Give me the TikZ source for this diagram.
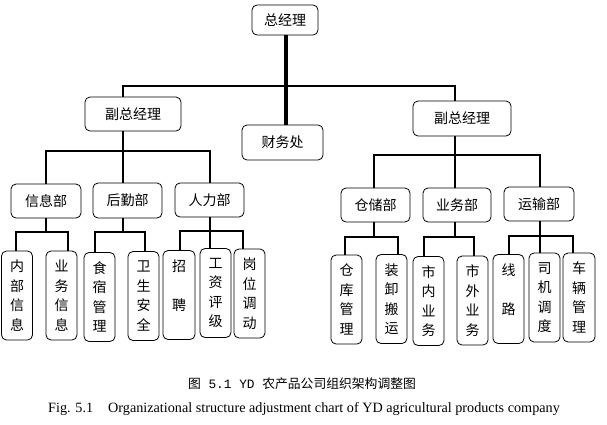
\documentclass[tikz,border=0pt]{standalone}
\usepackage{fontspec}
\setmainfont{Liberation Serif}
\newfontfamily\cjk{Noto Sans CJK SC}
\newfontfamily\monof{Liberation Mono}
\begin{document}
\begin{tikzpicture}[x=1pt,y=-1pt,
  box/.style={draw, line width=0.8pt, rounded corners=5pt, inner sep=0pt,
    font=\cjk\fontsize{14}{19.5}\selectfont, align=center},
  hb/.style={box, minimum width=#1, minimum height=34pt},
  vbox/.style={box, minimum width=31pt, minimum height=89pt},
  conn/.style={line width=2.6pt},
  main/.style={line width=3.5pt}]
\useasboundingbox (0,0) rectangle (607,424);
% level 1-2
\node[box, minimum width=66pt, minimum height=30pt] (zjl) at (285,20) {总经理};
\node[hb=96pt] (fz1) at (133,114) {副总经理};
\node[hb=81pt, minimum height=35pt] (cwc) at (282.5,142.5) {财务处};
\node[hb=98pt, minimum height=35pt] (fz2) at (462,118.5) {副总经理};
% level 3
\node[hb=70pt] (xxb) at (46,201) {信息部};
\node[hb=69pt, minimum height=35pt] (hqb) at (127.5,200.5) {后勤部};
\node[hb=69pt] (rlb) at (209.5,200) {人力部};
\node[hb=69pt] (ccb) at (375.5,205) {仓储部};
\node[hb=68pt] (ywb) at (457,205) {业务部};
\node[hb=70pt] (ysb) at (539,204) {运输部};
% level 4
\node[vbox] (nbxx) at (17,295.5) {内\\部\\信\\息};
\node[vbox] (ywxx) at (61.5,295.5) {业\\务\\信\\息};
\node[vbox] (ssgl) at (99.5,297) {食\\宿\\管\\理};
\node[vbox] (wsaq) at (143.5,296) {卫\\生\\安\\全};
\node[vbox, minimum width=32pt] (zp) at (179,295) {招\\ \\聘\\ };
\node[vbox] (gzpj) at (215.5,293) {工\\资\\评\\级};
\node[vbox] (gwdd) at (249.5,293.5) {岗\\位\\调\\动};
\node[vbox] (ckgl) at (346.5,299.5) {仓\\库\\管\\理};
\node[vbox] (zxby) at (391.5,299) {装\\卸\\搬\\运};
\node[vbox] (snyw) at (428.5,301) {市\\内\\业\\务};
\node[vbox] (swyw) at (472.5,300.5) {市\\外\\业\\务};
\node[vbox] (xl) at (508.5,299) {线\\ \\路\\ };
\node[vbox] (sjdd) at (544.5,297.5) {司\\机\\调\\度};
\node[vbox, minimum width=32pt] (clgl) at (579,297.5) {车\\辆\\管\\理};
% connectors level 1
\coordinate (top) at (286,86);
\coordinate (b1l) at (123,86);
\coordinate (b1r) at (455,86);
\draw[main] (top |- zjl.south) -- (top |- cwc.north);
\draw[conn] (b1l |- fz1.north) -- (b1l) -- (b1r) -- (b1r |- fz2.north);
% left deputy
\coordinate (b2a) at (46,151);
\coordinate (b2b) at (123,151);
\coordinate (b2c) at (210,151);
\draw[conn] (b2a |- xxb.north) -- (b2a) -- (b2c) -- (b2c |- rlb.north);
\draw[conn] (b2b |- fz1.south) -- (b2b |- hqb.north);
% right deputy
\coordinate (b3a) at (374,155);
\coordinate (b3b) at (455,155);
\coordinate (b3c) at (540,155);
\draw[conn] (b3a |- ccb.north) -- (b3a) -- (b3c) -- (b3c |- ysb.north);
\draw[conn] (b3b |- fz2.south) -- (b3b |- ywb.north);
% 信息部
\coordinate (c1a) at (16,232); \coordinate (c1b) at (46,232); \coordinate (c1c) at (68,232);
\draw[conn] (c1a |- nbxx.north) -- (c1a) -- (c1c) -- (c1c |- ywxx.north);
\draw[conn] (c1b |- xxb.south) -- (c1b);
% 后勤部
\coordinate (c2a) at (95,232); \coordinate (c2b) at (123,232); \coordinate (c2c) at (145,232);
\draw[conn] (c2a |- ssgl.north) -- (c2a) -- (c2c) -- (c2c |- wsaq.north);
\draw[conn] (c2b |- hqb.south) -- (c2b);
% 人力部
\coordinate (c3a) at (180,231); \coordinate (c3b) at (210,231); \coordinate (c3c) at (243,231);
\draw[conn] (c3a |- zp.north) -- (c3a) -- (c3c) -- (c3c |- gwdd.north);
\draw[conn] (c3b |- rlb.south) -- (c3b |- gzpj.north);
% 仓储部
\coordinate (c4a) at (345,237); \coordinate (c4b) at (374,237); \coordinate (c4c) at (398,237);
\draw[conn] (c4a |- ckgl.north) -- (c4a) -- (c4c) -- (c4c |- zxby.north);
\draw[conn] (c4b |- ccb.south) -- (c4b);
% 业务部
\coordinate (c5a) at (424,237); \coordinate (c5b) at (455,237); \coordinate (c5c) at (474,237);
\draw[conn] (c5a |- snyw.north) -- (c5a) -- (c5c) -- (c5c |- swyw.north);
\draw[conn] (c5b |- ywb.south) -- (c5b);
% 运输部
\coordinate (c6a) at (509,236); \coordinate (c6b) at (540,236); \coordinate (c6c) at (573,236);
\draw[conn] (c6a |- xl.north) -- (c6a) -- (c6c) -- (c6c |- clgl.north);
\draw[conn] (c6b |- ysb.south) -- (c6b |- sjdd.north);
% captions
\node[anchor=base, inner sep=0pt, font=\cjk\fontsize{12.8}{15}\selectfont] (cap1) at (302,388)
  {图{\monof\ 5.1 YD }农产品公司组织架构调整图};
\node[anchor=base west, inner sep=0pt, font=\fontsize{14.2}{16}\selectfont] (fig) at (48,412) {Fig. 5.1};
\node[anchor=base west, inner sep=0pt, font=\fontsize{14.2}{16}\selectfont] (cap2) at (108,412)
  {Organizational structure adjustment chart of YD agricultural products company};
\end{tikzpicture}
\end{document}
